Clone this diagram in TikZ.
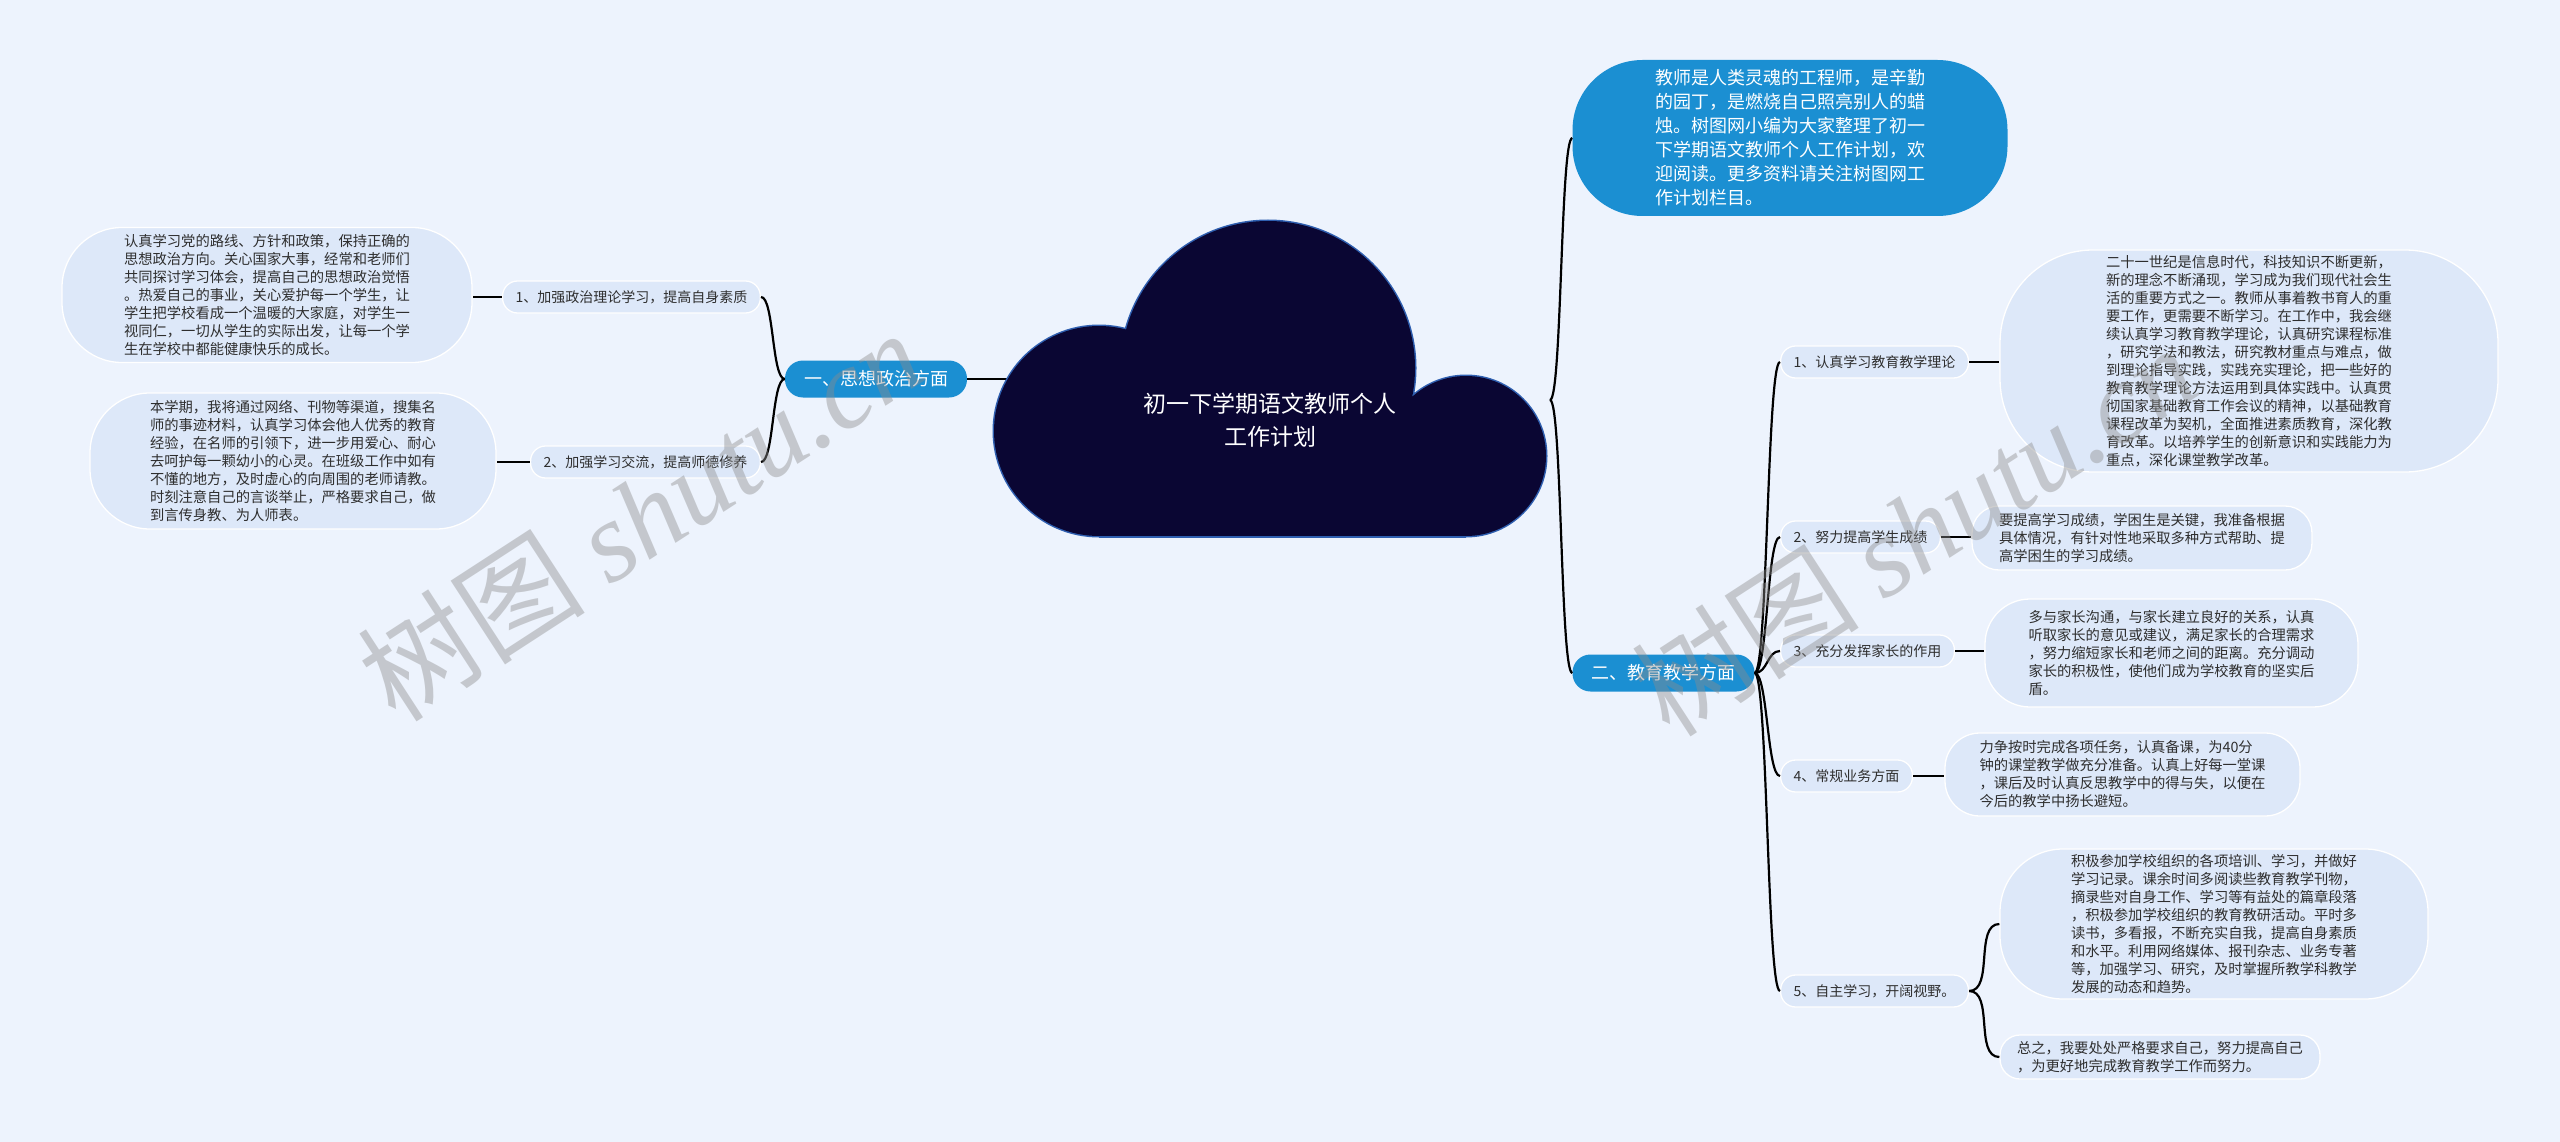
\documentclass[tikz,border=0pt]{standalone}
\usepackage{fontspec}
\setmainfont{Noto Sans CJK SC}
\newfontfamily\wmserif{Liberation Serif}
\definecolor{bg}{HTML}{EDF3FD}
\definecolor{leafc}{HTML}{DDE8F9}
\definecolor{bluec}{HTML}{1B8FD2}
\definecolor{navy}{HTML}{0A0633}
\definecolor{cloudedge}{HTML}{2F5FB0}
\definecolor{txt}{HTML}{2E2E2E}
\definecolor{wmc}{HTML}{8C8C8C}
\tikzset{
  leaf/.style={draw=white, line width=1.3pt, fill=leafc, rounded corners=#1, align=left, text=txt,
    font=\fontsize{14.3}{18}\selectfont, inner sep=0pt},
  item/.style={draw=white, line width=1.3pt, fill=leafc, rounded corners=15pt, minimum height=32pt,
    inner xsep=13pt, inner ysep=0pt, text=txt, font=\fontsize{14}{18}\selectfont},
  branch/.style={fill=bluec, text=white, rounded corners=18pt, minimum height=37pt, inner xsep=19pt,
    inner ysep=0pt, font=\fontsize{18}{24}\selectfont},
  link/.style={line width=2.2pt, black},
  wmark/.style={text=wmc, opacity=0.42, font=\fontsize{114}{120}\selectfont, inner sep=0pt}
}
\begin{document}
\begin{tikzpicture}[x=1pt,y=-1pt]
\fill[bg] (0,0) rectangle (2560,1142);
\useasboundingbox (0,0) rectangle (2560,1142);

% coordinates on the central cloud
\coordinate (cloudL) at (1012,379);
\coordinate (tipR) at (1550,400);

% ---------- nodes ----------
\node[branch] (B1) at (876,379) {一、思想政治方面};
\node[branch] (B2) at (1663.5,673) {二、教育教学方面};

\node[item, anchor=east] (LI1) at (761,297) {1、加强政治理论学习，提高自身素质};
\node[item, anchor=east] (LI2) at (761,462) {2、加强学习交流，提高师德修养};

\node[leaf=60pt, minimum width=410pt, minimum height=135pt] (LL1) at (267,295) {认真学习党的路线、方针和政策，保持正确的\\思想政治方向。关心国家大事，经常和老师们\\共同探讨学习体会，提高自己的思想政治觉悟\\。热爱自己的事业，关心爱护每一个学生，让\\学生把学校看成一个温暖的大家庭，对学生一\\视同仁，一切从学生的实际出发，让每一个学\\生在学校中都能健康快乐的成长。};
\node[leaf=60pt, minimum width=406pt, minimum height=136pt] (LL2) at (293,461) {本学期，我将通过网络、刊物等渠道，搜集名\\师的事迹材料，认真学习体会他人优秀的教育\\经验，在名师的引领下，进一步用爱心、耐心\\去呵护每一颗幼小的心灵。在班级工作中如有\\不懂的地方，及时虚心的向周围的老师请教。\\时刻注意自己的言谈举止，严格要求自己，做\\到言传身教、为人师表。};

\node[fill=bluec, rounded corners=70pt, minimum width=435pt, minimum height=156pt, inner sep=0pt,
  align=left, text=white, font=\fontsize{18}{24}\selectfont] (TOP) at (1790,138) {教师是人类灵魂的工程师，是辛勤\\的园丁，是燃烧自己照亮别人的蜡\\烛。树图网小编为大家整理了初一\\下学期语文教师个人工作计划，欢\\迎阅读。更多资料请关注树图网工\\作计划栏目。};

\node[item, anchor=west] (I1) at (1780,362) {1、认真学习教育教学理论};
\node[item, anchor=west] (I2) at (1780,537) {2、努力提高学生成绩};
\node[item, anchor=west] (I3) at (1780,651) {3、充分发挥家长的作用};
\node[item, anchor=west] (I4) at (1780,776) {4、常规业务方面};
\node[item, anchor=west] (I5) at (1780,991) {5、自主学习，开阔视野。};

\node[leaf=93pt, minimum width=498pt, minimum height=222pt] (R1) at (2249,361) {二十一世纪是信息时代，科技知识不断更新，\\新的理念不断涌现，学习成为我们现代社会生\\活的重要方式之一。教师从事着教书育人的重\\要工作，更需要不断学习。在工作中，我会继\\续认真学习教育教学理论，认真研究课程标准\\，研究学法和教法，研究教材重点与难点，做\\到理论指导实践，实践充实理论，把一些好的\\教育教学理论方法运用到具体实践中。认真贯\\彻国家基础教育工作会议的精神，以基础教育\\课程改革为契机，全面推进素质教育，深化教\\育改革。以培养学生的创新意识和实践能力为\\重点，深化课堂教学改革。};
\node[leaf=27pt, minimum width=340pt, minimum height=64pt] (R2) at (2142,538) {要提高学习成绩，学困生是关键，我准备根据\\具体情况，有针对性地采取多种方式帮助、提\\高学困生的学习成绩。};
\node[leaf=45pt, minimum width=373pt, minimum height=108pt] (R3) at (2171.5,653) {多与家长沟通，与家长建立良好的关系，认真\\听取家长的意见或建议，满足家长的合理需求\\，努力缩短家长和老师之间的距离。充分调动\\家长的积极性，使他们成为学校教育的坚实后\\盾。};
\node[leaf=35pt, minimum width=355pt, minimum height=83pt] (R4) at (2122.5,774.5) {力争按时完成各项任务，认真备课，为40分\\钟的课堂教学做充分准备。认真上好每一堂课\\，课后及时认真反思教学中的得与失，以便在\\今后的教学中扬长避短。};
\node[leaf=63pt, minimum width=428pt, minimum height=150pt] (R5a) at (2214,924) {积极参加学校组织的各项培训、学习，并做好\\学习记录。课余时间多阅读些教育教学刊物，\\摘录些对自身工作、学习等有益处的篇章段落\\，积极参加学校组织的教育教研活动。平时多\\读书，多看报，不断充实自我，提高自身素质\\和水平。利用网络媒体、报刊杂志、业务专著\\等，加强学习、研究，及时掌握所教学科教学\\发展的动态和趋势。};
\node[leaf=20pt, minimum width=320pt, minimum height=44pt] (R5b) at (2160,1057) {总之，我要处处严格要求自己，努力提高自己\\，为更好地完成教育教学工作而努力。};

% ---------- connectors ----------
\begin{scope}[link]
\draw (B1.east) -- (cloudL);
\draw (B1.west) .. controls +(-13,0) and +(13,0) .. (LI1.east);
\draw (B1.west) .. controls +(-13,0) and +(13,0) .. (LI2.east);
\draw (LI1.west) -- (LI1.west -| LL1.east);
\draw (LI2.west) -- (LI2.west -| LL2.east);
\draw (tipR) .. controls +(12,0) and +(-12,0) .. (TOP.west);
\draw (tipR) .. controls +(12,0) and +(-12,0) .. (B2.west);
\foreach \k in {1,...,5}{
  \draw (B2.east) .. controls +(13,0) and +(-13,0) .. (I\k.west);
}
\draw (I1.east) -- (I1.east -| R1.west);
\draw (I2.east) -- (I2.east -| R2.west);
\draw (I3.east) -- (I3.east -| R3.west);
\draw (I4.east) -- (I4.east -| R4.west);
\draw (I5.east) .. controls +(25,0) and +(-25,0) .. (R5a.west);
\draw (I5.east) .. controls +(25,0) and +(-25,0) .. (R5b.west);
\end{scope}

% ---------- central cloud ----------
\fill[cloudedge] (1099,431) circle (106.5pt) (1268,368) circle (148.5pt) (1466,456) circle (81.5pt);
\fill[cloudedge] (1099,430) rectangle (1466,537.5);
\fill[navy] (1099,431) circle (105pt) (1268,368) circle (147pt) (1466,456) circle (80pt);
\fill[navy] (1099,431) rectangle (1466,536);
\node[text=white, align=center, font=\fontsize{23}{33}\selectfont] (title) at (1270,420) {初一下学期语文教师个人\\工作计划};

% ---------- watermarks ----------
\node[wmark, rotate=33] (wm1) at (640,515) {树图 {\wmserif\itshape shutu.cn}};
\node[wmark, rotate=33] (wm2) at (1914,530) {树图 {\wmserif\itshape shutu.cn}};
\end{tikzpicture}
\end{document}
